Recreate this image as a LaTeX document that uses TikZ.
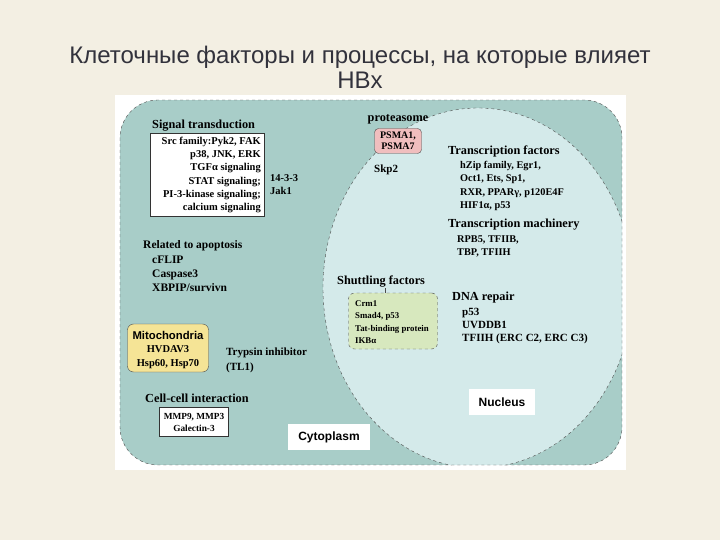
\documentclass[tikz,border=0pt]{standalone}
\usepackage{fontspec}
\setmainfont{Liberation Serif}
\newfontfamily\titlefont{Liberation Sans}
\newfontfamily\sansb{Liberation Sans}
\begin{document}
\begin{tikzpicture}[x=1pt,y=-1pt,
  lbl/.style={font=\fontsize{11}{12}\selectfont\bfseries,anchor=west,inner sep=0},
  sm/.style={font=\fontsize{10}{11}\selectfont\bfseries,anchor=west,inner sep=0},
  hd/.style={font=\fontsize{12.3}{13}\selectfont\bfseries,anchor=west,inner sep=0},
  sbox/.style={font=\sansb\fontsize{12}{13}\selectfont\bfseries,fill=white,inner sep=4pt,minimum height=26}]
\fill[fill={rgb,255:red,243;green,239;blue,227}] (0,0) rectangle (720,540);
\useasboundingbox (0,0) rectangle (720,540);
\node[font=\titlefont\fontsize{24}{25}\selectfont,text={rgb,255:red,50;green,50;blue,60},align=center] (title) at (360,67) {Клеточные факторы и процессы, на которые влияет\\HBx};
\fill[white] (115,95) rectangle (626,470);
\begin{scope}
\path[clip,rounded corners=38] (120,100) rectangle (622,465);
\fill[fill={rgb,255:red,168;green,205;blue,200}] (120,100) rectangle (622,465);
\fill[fill={rgb,255:red,212;green,234;blue,234}] (478,288) ellipse (155 and 180);
\draw[dashed,black!70,thin] (478,288) ellipse (155 and 180);
\end{scope}
\draw[dashed,black!70,thin,rounded corners=38] (120,100) rectangle (622,465);
% signal
\node[hd] (st) at (152,126) {Signal transduction};
\draw[fill=white,draw=black!80] (150,133) rectangle (264,216);
\node[sm,anchor=east,align=right,font=\fontsize{10.5}{13.3}\selectfont\bfseries] (stl) at (261,175) {Src family:Pyk2, FAK\\p38, JNK, ERK\\TGFα signaling\\STAT signaling;\\PI-3-kinase signaling;\\calcium signaling};
\node[lbl,align=left,font=\fontsize{10.5}{13}\selectfont\bfseries] (jak) at (270,185) {14-3-3\\Jak1};
% proteasome
\node[hd,anchor=center] (prot) at (398,119) {proteasome};
\node[draw=black!70,fill={rgb,255:red,240;green,190;blue,190},rounded corners=4,minimum width=47,minimum height=25,align=center,inner sep=1,font=\fontsize{10}{11}\selectfont\bfseries] (psma) at (398,141) {PSMA1,\\PSMA7};
\node[lbl] (skp) at (374,170) {Skp2};
% transcription
\node[hd] (tf) at (448,151) {Transcription factors};
\node[sm,align=left,font=\fontsize{10.3}{13.5}\selectfont\bfseries] (tfl) at (460,186) {hZip family, Egr1,\\Oct1, Ets, Sp1,\\RXR, PPARγ, p120E4F\\HIF1α, p53};
\node[hd] (tm) at (448,225) {Transcription machinery};
\node[sm,align=left,font=\fontsize{10.3}{13}\selectfont\bfseries] (tml) at (457,246) {RPB5, TFIIB,\\TBP, TFIIH};
% shuttling
\node[hd] (sf) at (337,282) {Shuttling factors};
\draw[black!70] (385,288) -- (385,294);
\node[draw=black!70,dashed,fill={rgb,255:red,215;green,232;blue,190},rounded corners=6,minimum width=89,minimum height=56] (sbx) at (393,321) {};
\node[sm,align=left,font=\fontsize{8.8}{12.3}\selectfont\bfseries] (sfl) at (355,322) {Crm1\\Smad4, p53\\Tat-binding protein\\IKBα};
% DNA repair
\node[hd] (dr) at (452,298) {DNA repair};
\node[sm,align=left,font=\fontsize{11}{13}\selectfont\bfseries] (drl) at (462,326) {p53\\UVDDB1\\TFIIH (ERC C2, ERC C3)};
% apoptosis
\node[lbl,font=\fontsize{11.5}{12}\selectfont\bfseries] (ap) at (143,246) {Related to apoptosis};
\node[lbl,align=left,font=\fontsize{11.5}{14}\selectfont\bfseries] (apl) at (152,274) {cFLIP\\Caspase3\\XBPIP/survivn};
% mito
\node[draw=black!70,fill={rgb,255:red,245;green,228;blue,150},rounded corners=6,minimum width=81,minimum height=48] (mb) at (168,348) {};
\node[font=\sansb\fontsize{11.3}{12}\selectfont\bfseries] (mt) at (168,335) {Mitochondria};
\node[font=\fontsize{10.5}{14}\selectfont\bfseries,align=center] (mtl) at (168,357) {HVDAV3\\Hsp60, Hsp70};
\node[lbl,align=left,font=\fontsize{11}{15}\selectfont\bfseries] (tryp) at (226,360) {Trypsin inhibitor\\(TL1)};
% cell-cell
\node[hd] (cc) at (145,398) {Cell-cell interaction};
\node[draw=black!80,fill=white,minimum width=69,minimum height=29,align=center,inner sep=1,font=\fontsize{9.3}{12}\selectfont\bfseries] (ccb) at (194,422) {MMP9, MMP3\\Galectin-3};
\node[sbox,minimum width=82] (cyto) at (329,437) {Cytoplasm};
\node[sbox,minimum width=66] (nuc) at (502,402) {Nucleus};
\end{tikzpicture}
\end{document}
